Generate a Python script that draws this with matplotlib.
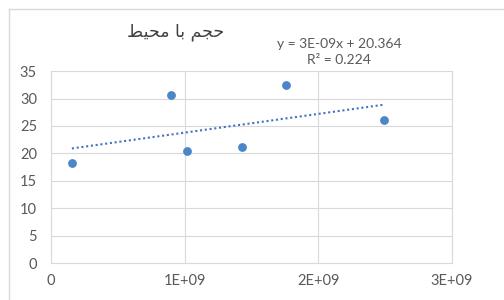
import matplotlib
matplotlib.use("Agg")
import matplotlib.pyplot as plt
import numpy as np
from matplotlib.lines import Line2D

# Data
x_vals = [0.157e9, 0.90e9, 1.02e9, 1.43e9, 1.76e9, 2.49e9]
y_vals = [18.2, 30.6, 20.4, 21.1, 32.4, 26.0]
x_ticks = [0, 1e9, 2e9, 3e9]
x_tick_labels = ["0", "1E+09", "2E+09", "3E+09"]
y_ticks = [0, 5, 10, 15, 20, 25, 30, 35]
title = "\ufec2\ufef4\ufea4\ufee3 \ufe8e\ufe91 \ufee2\ufea0\ufea3"  # حجم با محیط (shaped, visual order)
eq_text = "y = 3E-09x + 20.364\nR² = 0.224"

plt.rcParams["font.family"] = ["Lato", "DejaVu Sans"]

fig = plt.figure(figsize=(5.04, 3.0), dpi=100)
ax = fig.add_axes([0.101, 0.123, 0.796, 0.640])

grey = "#595959"
grid = "#d9d9d9"

ax.scatter(x_vals, y_vals, s=40, color="#4a86c8", zorder=3, linewidths=0)
coef = np.polyfit(x_vals, y_vals, 1)
xs = np.array([min(x_vals), max(x_vals)])
ax.plot(xs, np.polyval(coef, xs), linestyle=(0, (1, 1.3)), color="#4472c4", lw=1.5, zorder=2)

ax.set_xlim(0, 3e9)
ax.set_ylim(0, 35)
ax.set_xticks(x_ticks)
ax.set_xticklabels(x_tick_labels)
ax.set_yticks(y_ticks)
ax.grid(True, color=grid, lw=0.8)
ax.set_axisbelow(True)
ax.spines["top"].set_visible(False)
for s in ["right", "left", "bottom"]:
    ax.spines[s].set_color(grid)
    ax.spines[s].set_linewidth(0.8)
ax.tick_params(length=0, colors=grey, labelsize=10.5)
ax.tick_params(axis="y", pad=10)
ax.tick_params(axis="x", pad=8)

fig.text(0.349, 0.893, title, ha="center", va="center", fontsize=12.5,
         family=["DejaVu Sans"], color="#404040")
fig.text(0.673, 0.825, eq_text, ha="center", va="center", fontsize=10,
         color=grey, linespacing=1.4)

# chart border
fig.add_artist(Line2D([9/504, 9/504], [0, 1 - 9/300], color="#d9d9d9", lw=1, transform=fig.transFigure))
fig.add_artist(Line2D([9/504, 1], [1 - 9/300, 1 - 9/300], color="#d9d9d9", lw=1, transform=fig.transFigure))

fig.savefig("out.png", dpi=100)
